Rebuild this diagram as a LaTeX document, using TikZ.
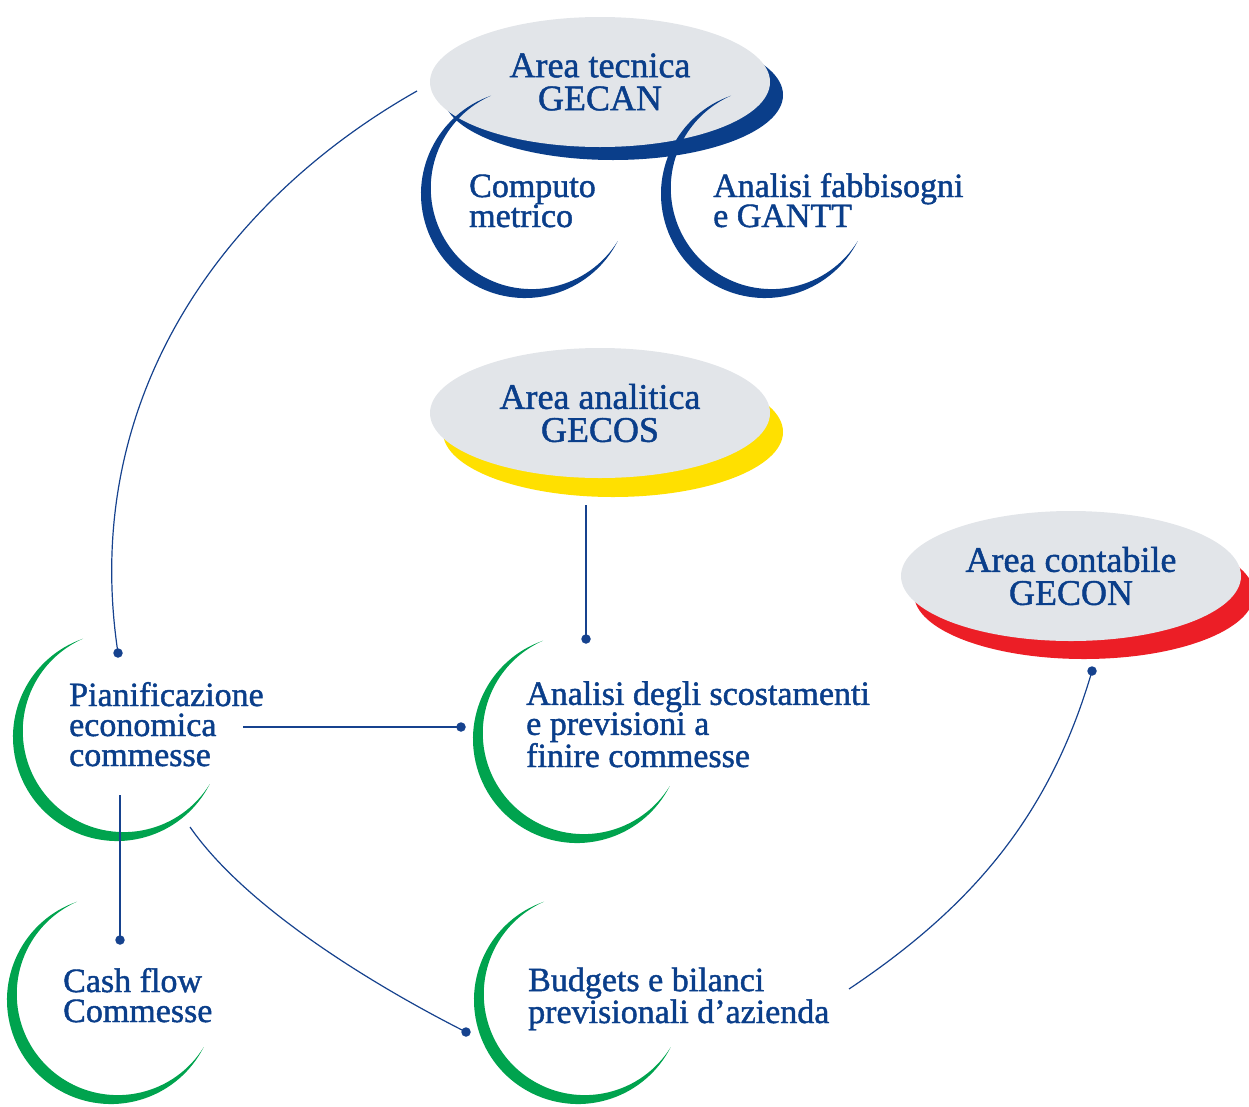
\documentclass[tikz,border=0pt]{standalone}
\usepackage{fontspec}
\setmainfont{Liberation Serif}[FakeBold=1.3]
\usetikzlibrary{shapes.geometric}
\definecolor{navy}{RGB}{10,62,138}
\definecolor{linkblue}{RGB}{22,66,142}
\definecolor{leaf}{RGB}{0,163,78}
\definecolor{sun}{RGB}{255,224,0}
\definecolor{alert}{RGB}{236,30,38}
\definecolor{mist}{RGB}{226,229,233}
% crescent: outer circle r=104 centred at (#1,#2), inner circle r=101 shifted up-right
\newcommand{\crescentshape}[3]{%
  \fill[#3] (#1,#2) ++(109:104pt) arc[start angle=109, end angle=333, radius=104pt]
     arc[start angle=328.26, end angle=113.74, radius=101pt] -- cycle;}
\begin{document}
\begin{tikzpicture}[x=1pt,y=-1pt,
  lbl/.style={font=\fontsize{34}{30}\selectfont, text=navy, align=left, anchor=base west, inner sep=0pt},
  area/.style={ellipse, fill=mist, minimum width=340pt, minimum height=130pt, inner sep=0pt, align=center, text=navy, font=\fontsize{36}{33}\selectfont},
  link/.style={draw=linkblue, line width=1.2pt},
  dot/.style={circle, fill=linkblue, minimum size=9.5pt, inner sep=0pt}]
\useasboundingbox (0,0) rectangle (1249,1106);
% shadows
\fill[navy] (613,95) ellipse[x radius=170pt, y radius=65pt];
\fill[sun] (613,432) ellipse[x radius=170pt, y radius=65pt];
\fill[alert] (1084,594) ellipse[x radius=170pt, y radius=65pt];
% area ellipses
\node[area] (tec) at (600,82) {Area tecnica\\GECAN};
\node[area] (ana) at (600,413) {Area analitica\\GECOS};
\node[area] (con) at (1071,576) {Area contabile\\GECON};
% crescents
\crescentshape{525}{194}{navy}
\crescentshape{765}{194}{navy}
\crescentshape{117}{737}{leaf}
\crescentshape{577}{739}{leaf}
\crescentshape{111}{1000}{leaf}
\crescentshape{578}{1000}{leaf}
% labels (anchored on the baseline of the last line)
\node[lbl] (comp) at (469,227) {Computo\\metrico};
\node[lbl] (fabb) at (713,227) {Analisi fabbisogni\\e GANTT};
\node[lbl] (pian) at (69,766) {Pianificazione\\economica\\commesse};
\node[lbl] (scos) at (526,767) {Analisi degli scostamenti\\e previsioni a\\finire commesse};
\node[lbl] (cash) at (63,1022) {Cash flow\\Commesse};
\node[lbl] (budg) at (528,1023) {Budgets e bilanci\\previsionali d’azienda};
% connector ends
\coordinate (s1) at (417,91);
\coordinate (s2) at (243,727);
\coordinate (s3) at (586,505);
\coordinate (s4) at (120,795);
\coordinate (s5) at (190,827);
\coordinate (s6) at (849,989);
\node[dot] (d1) at (118,653) {};
\node[dot] (d2) at (461,727) {};
\node[dot] (d3) at (586,639) {};
\node[dot] (d4) at (120,940) {};
\node[dot] (d5) at (466,1032) {};
\node[dot] (d6) at (1092,671) {};
% connectors
\draw[link] (s1) .. controls +(-191,108) and +(-39,-257) .. (d1.center);
\draw[link] (s2) -- (d2.center);
\draw[link] (s3) -- (d3.center);
\draw[link] (s4) -- (d4.center);
\draw[link] (s5) .. controls +(57,82) and +(-89,-45) .. (d5.center);
\draw[link] (s6) .. controls +(124,-83) and +(-42,144) .. (d6.center);
\end{tikzpicture}
\end{document}
